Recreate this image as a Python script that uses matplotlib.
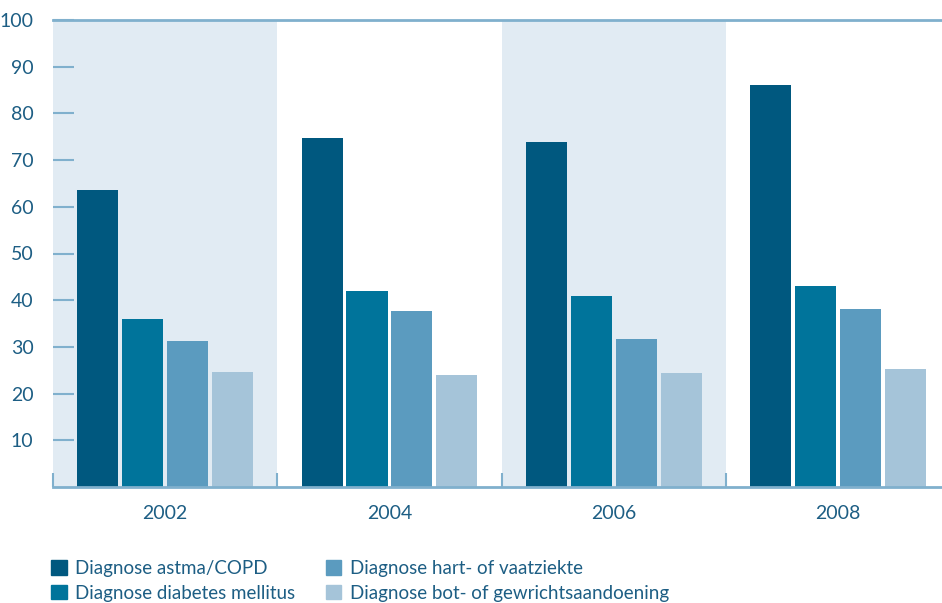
import matplotlib.pyplot as plt
from matplotlib.patches import Patch

years = ["2002", "2004", "2006", "2008"]
series = ["Diagnose astma/COPD", "Diagnose diabetes mellitus",
          "Diagnose hart- of vaatziekte", "Diagnose bot- of gewrichtsaandoening"]
astma = [63.6, 74.7, 73.9, 86.1]
diabetes = [36.0, 42.0, 40.9, 43.0]
hart = [31.3, 37.7, 31.7, 38.1]
bot = [24.6, 24.0, 24.4, 25.3]
yticks = [10, 20, 30, 40, 50, 60, 70, 80, 90, 100]

colors = ["#00587f", "#00749b", "#5b9bbf", "#a5c4d9"]
band = "#e1ebf3"
line = "#80b0cd"
txt = "#1d5e84"

plt.rcParams['font.family'] = ['Lato', 'DejaVu Sans']

fig = plt.figure(figsize=(9.42, 6.03), dpi=100)
ax = fig.add_axes([53/942, 1-487/603, 1-53/942, 467/603])

# shaded bands behind 2002 and 2006
for i in [0, 2]:
    ax.axvspan(i-0.5, i+0.5, color=band, zorder=0, lw=0)

offs = [-0.3, -0.1, 0.1, 0.3]
for k, vals in enumerate([astma, diabetes, hart, bot]):
    xs = [i + offs[k] for i in range(len(years))]
    ax.bar(xs, vals, 0.183, color=colors[k], zorder=2)

ax.set_xlim(-0.5, -0.5 + 889/224.3)
ax.set_ylim(0, 100)

for s in ["left", "right", "top"]:
    ax.spines[s].set_visible(False)
ax.spines["bottom"].set_color(line)
ax.spines["bottom"].set_linewidth(2)
ax.axhline(100, color=line, lw=2, zorder=3, clip_on=False)

ax.set_yticks(yticks)
ax.set_yticklabels([str(v) for v in yticks])
ax.tick_params(axis="y", direction="in", length=15, width=1.5, color=line,
               labelcolor=txt, labelsize=14, pad=14)

ax.set_xticks([-0.5, 0.5, 1.5, 2.5])
ax.set_xticklabels([])
ax.tick_params(axis="x", direction="in", length=10, width=1.5, color=line)
for i, y in enumerate(years):
    ax.text(i, -3.8, y, ha="center", va="top", color=txt, fontsize=14)

handles = [Patch(color=c) for c in colors]
fig.legend(handles, series, loc="upper left", bbox_to_anchor=(51/942, 1-560/603),
           ncol=2, frameon=False, handlelength=0.85, handleheight=0.85,
           handletextpad=0.45, columnspacing=1.6, labelspacing=0.4,
           borderaxespad=0, borderpad=0, fontsize=13.5, labelcolor=txt)

plt.savefig("out.png", dpi=100)
